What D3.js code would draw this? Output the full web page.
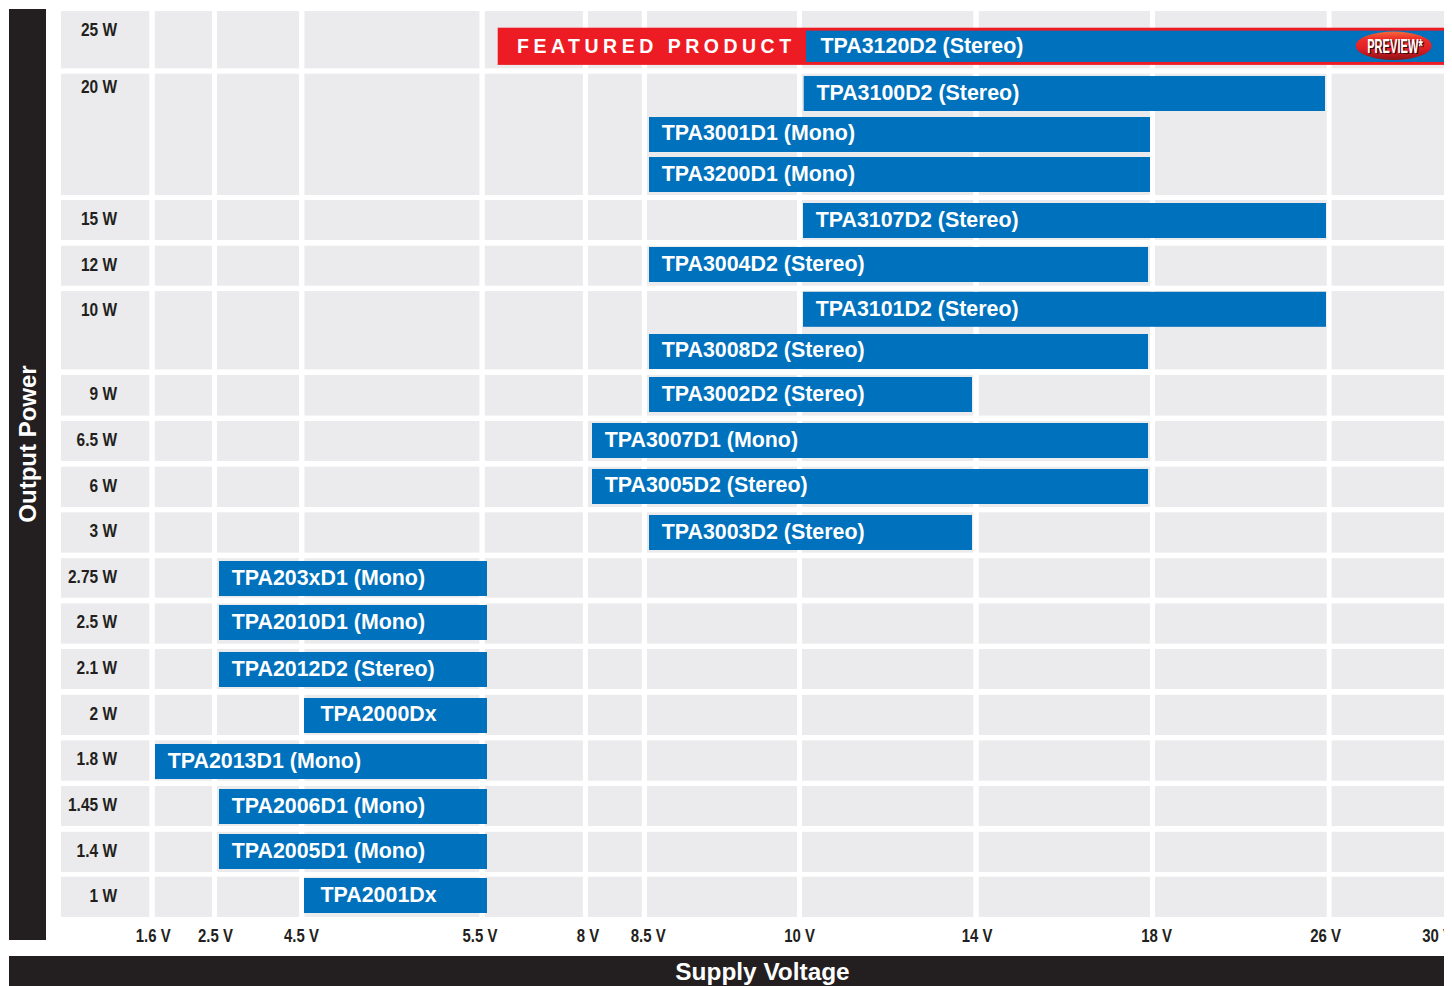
<!DOCTYPE html>
<html>
<head>
<meta charset="utf-8">
<script src="https://cdn.jsdelivr.net/npm/d3@7/dist/d3.min.js"></script>
<style>
html,body{margin:0;padding:0;background:#fff;overflow:hidden}
svg{display:block}
.narrow{font-family:"Liberation Sans",sans-serif;font-weight:700;fill:#231f20}
.wide{font-family:"Liberation Sans",sans-serif;font-weight:700;fill:#fff}
</style>
</head>
<body>
<svg id="chart" width="1452" height="986"></svg>
<script>
// ---- data ----
const voltages = [1.6, 2.5, 4.5, 5.5, 8, 8.5, 10, 14, 18, 26, 30];
const powerLabels = ["25 W","20 W","15 W","12 W","10 W","9 W","6.5 W","6 W","3 W","2.75 W","2.5 W","2.1 W","2 W","1.8 W","1.45 W","1.4 W","1 W"];
const products = ["TPA3120D2 (Stereo)","TPA3100D2 (Stereo)","TPA3001D1 (Mono)","TPA3200D1 (Mono)","TPA3107D2 (Stereo)","TPA3004D2 (Stereo)","TPA3101D2 (Stereo)","TPA3008D2 (Stereo)","TPA3002D2 (Stereo)","TPA3007D1 (Mono)","TPA3005D2 (Stereo)","TPA3003D2 (Stereo)","TPA203xD1 (Mono)","TPA2010D1 (Mono)","TPA2012D2 (Stereo)","TPA2000Dx","TPA2013D1 (Mono)","TPA2006D1 (Mono)","TPA2005D1 (Mono)","TPA2001Dx"];
const minVolts = [10,10,8.5,8.5,10,8.5,10,8.5,8.5,8,8,8.5,2.5,2.5,2.5,4.5,1.6,2.5,2.5,4.5];
const maxVolts = [30,26,18,18,26,18,26,18,14,18,18,14,5.5,5.5,5.5,5.5,5.5,5.5,5.5,5.5];
const featuredProduct = "TPA3120D2 (Stereo)";
const featuredTitle = "FEATURED PRODUCT";
const previewLabel = "PREVIEW*";
const xTitle = "Supply Voltage";
const yTitle = "Output Power";

// ---- layout (scale ranges only) ----
const clipRight = 1444;
const cellLefts  = [61,154.8,217,304.4,484.8,587.9,647,802,978.8,1155,1331.6];
const cellRights = [149.3,212,299,479.4,582.9,641.8,797,973.3,1150,1326.7,clipRight];
const rowTops    = [11,73.7,200,245.7,291,375,421,466.7,512.3,558.2,603.4,649,694.8,740.4,786,831.8,876.7];
const rowBottoms = [68.4,195,240,285.7,369.4,415.6,461,507,552.6,597.7,643.7,689,735,780.7,826,872,917];
const barCenters = [46.3,93.5,134.5,174.5,220.5,264.5,309.3,351.5,394.5,440.5,486.5,532.5,578.5,622.5,669.5,715.5,761.5,806.5,851.5,895.5];
const startRange = [155,219,304,null,592,649,803,null,null,null,null];
const endRange   = [null,null,null,487,null,null,null,972,1148,1326,clipRight];
const tickCenters = [152.7,215,301,479.4,587.5,647.7,799,976.5,1156,1325,1437];

const defined = (dom, rng) => {
  const pairs = dom.map((d,i)=>[d,rng[i]]).filter(p=>p[1]!==null);
  return d3.scaleLinear().domain(pairs.map(p=>p[0])).range(pairs.map(p=>p[1]));
};
const xStart = defined(voltages, startRange);
const xEnd   = defined(voltages, endRange);
const xTick  = d3.scaleLinear().domain(voltages).range(tickCenters);
const colLeft  = d3.scaleOrdinal(voltages, cellLefts);
const colRight = d3.scaleOrdinal(voltages, cellRights);
const rowTop    = d3.scaleOrdinal(powerLabels, rowTops);
const rowBottom = d3.scaleOrdinal(powerLabels, rowBottoms);
const barY = d3.scaleOrdinal(products, barCenters);

const startNudge = {"TPA3120D2 (Stereo)":3,"TPA3100D2 (Stereo)":0.7};
const endNudge = {"TPA3001D1 (Mono)":2,"TPA3200D1 (Mono)":2,"TPA3100D2 (Stereo)":-1};
const textInset = {"TPA2000Dx":16.5,"TPA2001Dx":16.5,"TPA3120D2 (Stereo)":14.5};
const textRaise = {"TPA3001D1 (Mono)":1,"TPA3008D2 (Stereo)":1,"TPA2000Dx":1,"TPA3005D2 (Stereo)":1,"TPA3120D2 (Stereo)":0.5,"TPA3100D2 (Stereo)":0.5,"TPA2001Dx":0.5};
const labelBaseline = {"20 W":19};

const ink = "#231f20", cellFill = "#ebebed", blue = "#0071bc", red = "#ed1c24";
const barHeight = 35;

const svg = d3.select("#chart");
const defs = svg.append("defs");
defs.append("clipPath").attr("id","plotClip").append("rect")
  .attr("x",0).attr("y",0).attr("width",clipRight).attr("height",986);
const grad = defs.append("linearGradient").attr("id","pill").attr("x1",0).attr("y1",0).attr("x2",0).attr("y2",1);
[[0,"#f26b3d"],[0.25,"#ee2e28"],[0.6,"#e01f26"],[1,"#8e1216"]].forEach(s=>
  grad.append("stop").attr("offset",s[0]).attr("stop-color",s[1]));

const root = svg.append("g").attr("clip-path","url(#plotClip)");

// grid cells
const cellData = d3.cross(powerLabels, voltages);
root.append("g").selectAll("rect").data(cellData).join("rect")
  .attr("x",d=>colLeft(d[1])).attr("y",d=>rowTop(d[0]))
  .attr("width",d=>colRight(d[1])-colLeft(d[1]))
  .attr("height",d=>rowBottom(d[0])-rowTop(d[0]))
  .attr("fill",cellFill);

// axis title bars
root.append("rect").attr("x",9).attr("y",9).attr("width",37).attr("height",931).attr("fill",ink);
root.append("rect").attr("x",9).attr("y",956).attr("width",clipRight-9).attr("height",30).attr("fill",ink);
root.append("text").attr("class","wide")
  .attr("transform","translate(35.5,444) rotate(-90)").attr("text-anchor","middle")
  .attr("font-size",24).text(yTitle);
root.append("text").attr("class","wide").attr("x",762.5).attr("y",980)
  .attr("text-anchor","middle").attr("font-size",24.4).text(xTitle);

// power labels
root.append("g").selectAll("text").data(powerLabels).join("text")
  .attr("class","narrow").attr("text-anchor","end").attr("font-size",18)
  .attr("transform",d=>`translate(117,${rowTop(d)+(labelBaseline[d]||25)}) scale(0.86,1)`)
  .text(d=>d);

// voltage axis
const axis = d3.axisBottom(xTick).tickValues(voltages).tickSize(0).tickPadding(0)
  .tickFormat(d=>d+" V");
const axisG = root.append("g").attr("transform","translate(0,927.5)").call(axis);
axisG.select(".domain").remove();
axisG.selectAll("text").attr("class","narrow").attr("font-size",18).attr("dy","0.78em").attr("y",0)
  .attr("transform","scale(0.83,1)")
  .style("font-family",'"Liberation Sans",sans-serif').style("font-weight",700).attr("fill",ink);

// featured band
const bars = products.map((p,i)=>({name:p,lo:minVolts[i],hi:maxVolts[i]}));
const featured = bars.find(b=>b.name===featuredProduct);
const bandY = barY(featured.name);
root.append("rect").attr("x",497.7).attr("y",bandY-18.6)
  .attr("width",clipRight-497.7).attr("height",37.2).attr("fill",red);
root.append("text").attr("class","wide").attr("x",517).attr("y",bandY+7)
  .attr("font-size",19.5).attr("letter-spacing",4.5).text(featuredTitle);

// bars
const barH = d=>d.name===featuredProduct?31.3:barHeight;
const x0 = d=>xStart(d.lo)+(startNudge[d.name]||0);
const x1 = d=>xEnd(d.hi)+(endNudge[d.name]||0);
root.append("g").selectAll("rect").data(bars).join("rect")
  .attr("x",x0).attr("y",d=>barY(d.name)-barH(d)/2)
  .attr("width",d=>x1(d)-x0(d)).attr("height",barH).attr("fill",blue);
root.append("g").selectAll("text").data(bars).join("text")
  .attr("class","wide").attr("font-size",21.4)
  .attr("x",d=>x0(d)+(textInset[d.name]||12.7))
  .attr("y",d=>barY(d.name)+6.9-(textRaise[d.name]||0))
  .text(d=>d.name);

// preview pill
const pill = root.append("g").attr("transform",`translate(1393.7,${bandY-0.5})`);
pill.append("ellipse").attr("rx",38).attr("ry",14.2).attr("fill","url(#pill)");
const previewStyle = (s,fill,dx,dy)=>s.attr("class","narrow").attr("x",-26.5+dx).attr("y",7+dy)
  .attr("font-size",20).attr("textLength",55.5).attr("lengthAdjust","spacingAndGlyphs")
  .style("fill",fill).text(previewLabel);
pill.append("text").call(previewStyle,"#3a0a0c",1.3,1.3);
pill.append("text").call(previewStyle,"#ffffff",0,0);
</script>
</body>
</html>
